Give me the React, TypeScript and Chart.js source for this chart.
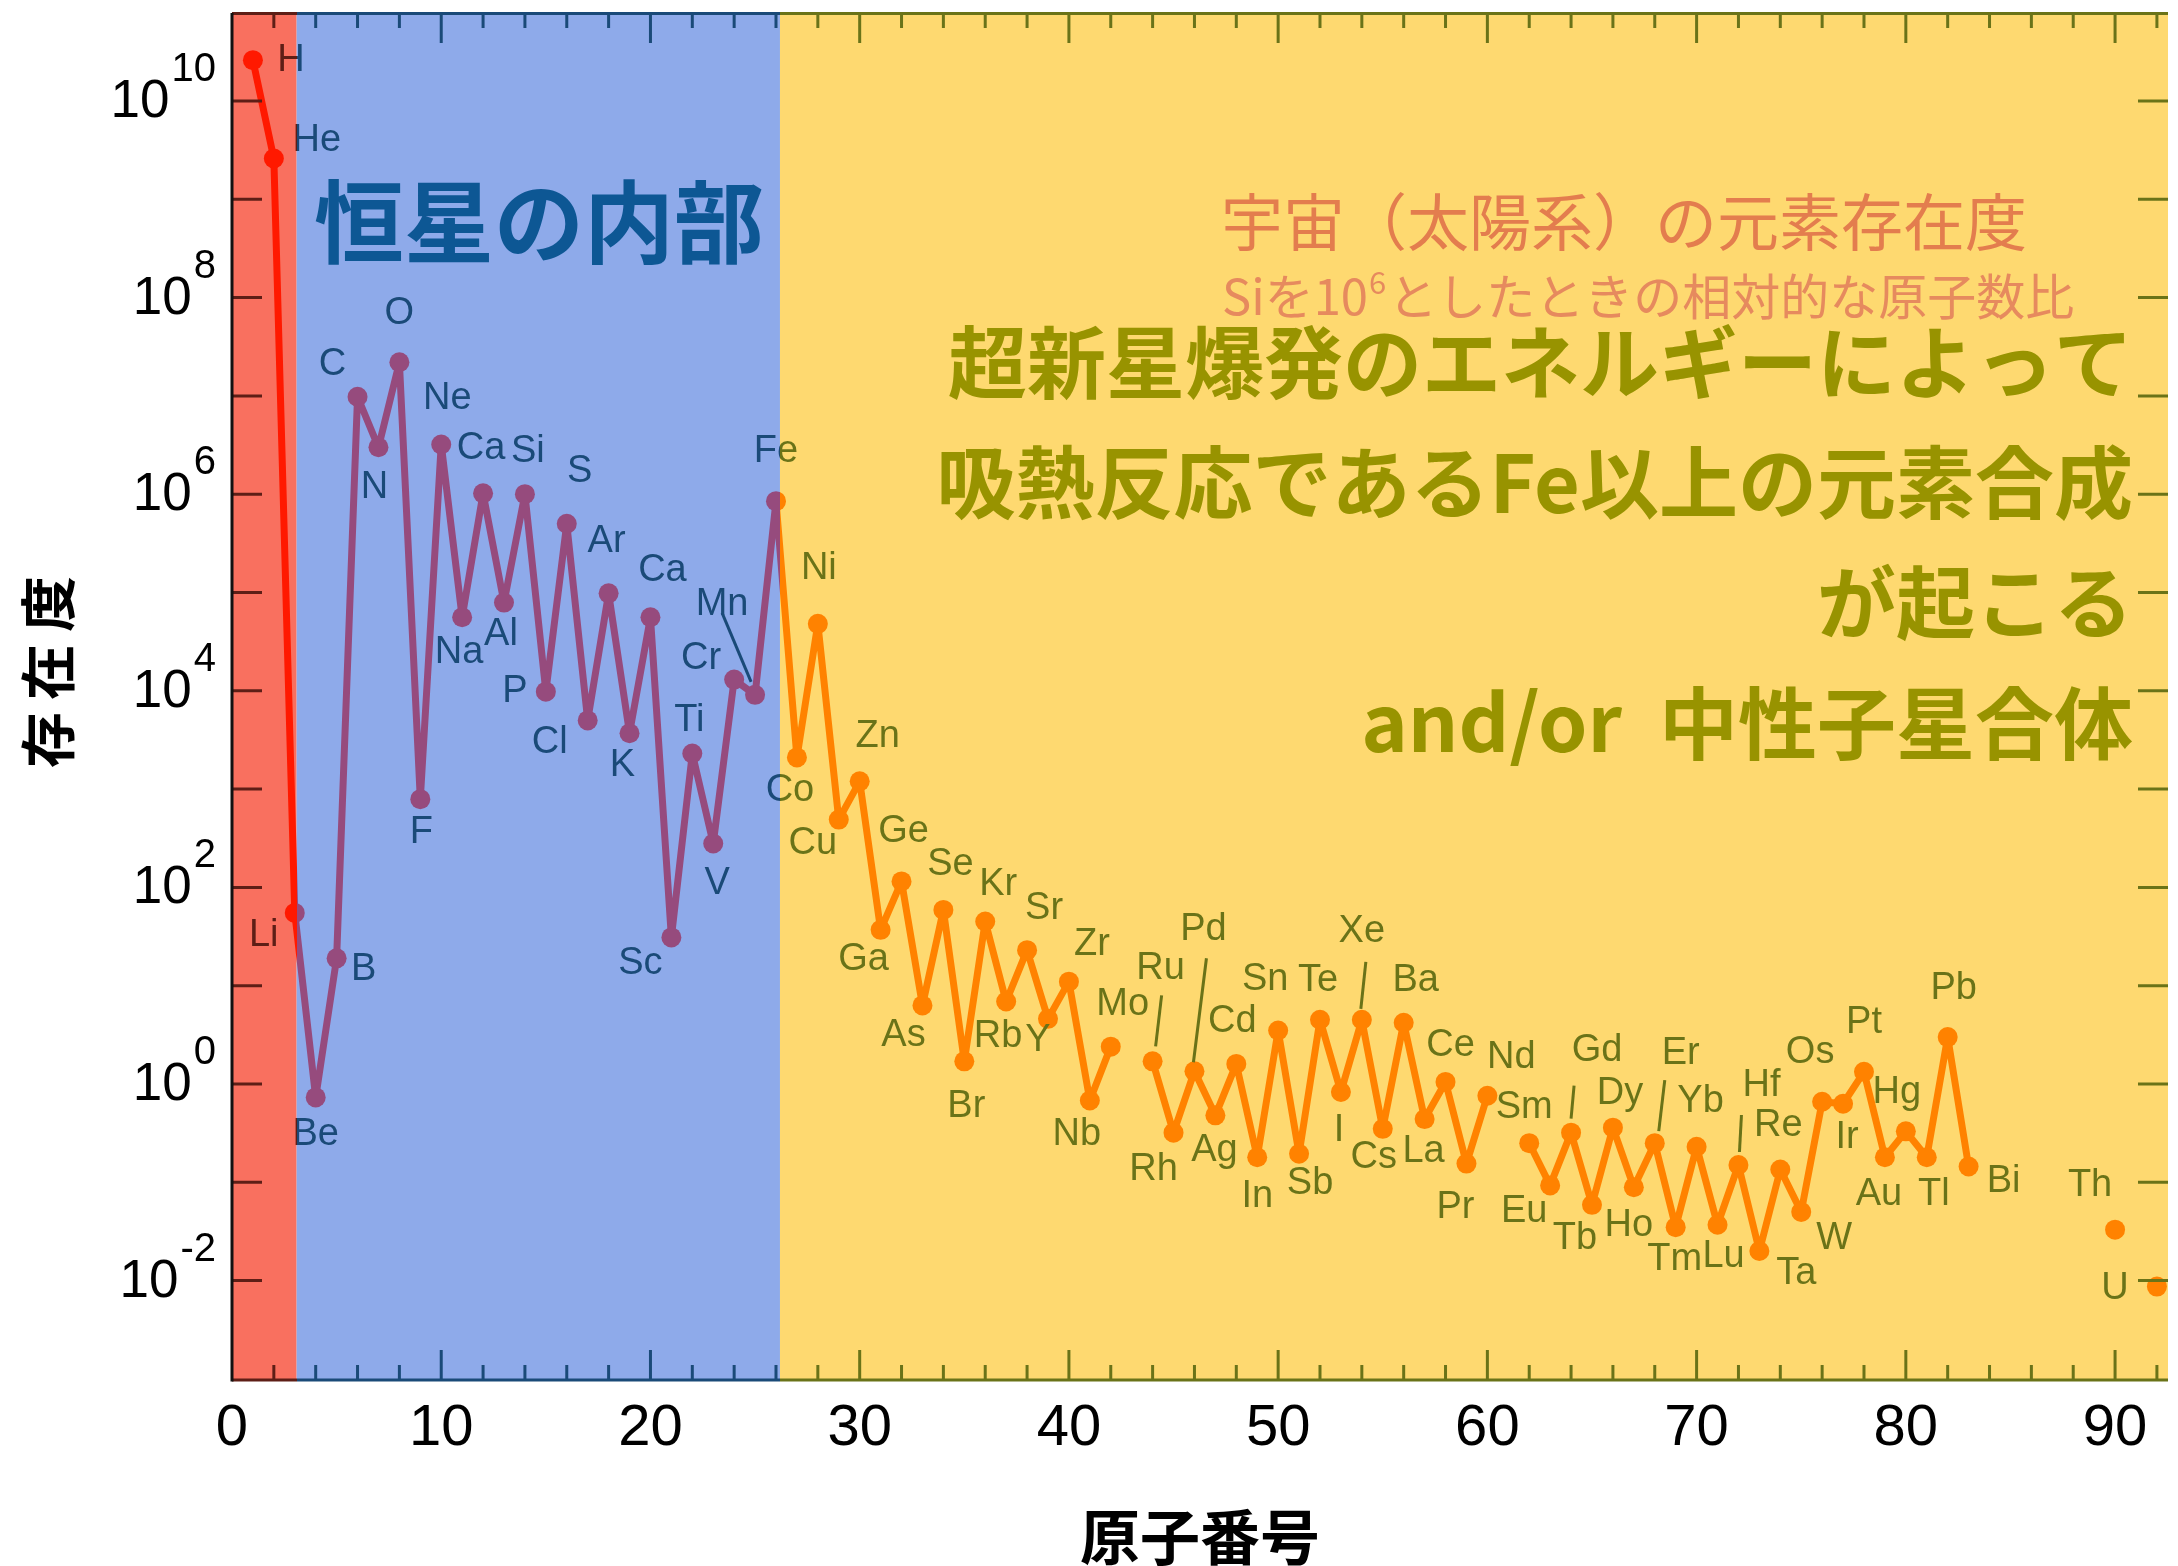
import React, { useEffect, useRef } from 'react';
import { Chart, registerables } from 'chart.js';

Chart.register(...registerables);

// ---------------- data ----------------
const atomicNumbers = [
  1, 2, 3, 4, 5, 6, 7, 8, 9, 10,
  11, 12, 13, 14, 15, 16, 17, 18, 19, 20,
  21, 22, 23, 24, 25, 26, 27, 28, 29, 30,
  31, 32, 33, 34, 35, 36, 37, 38, 39, 40,
  41, 42, 43, 44, 45, 46, 47, 48, 49, 50,
  51, 52, 53, 54, 55, 56, 57, 58, 59, 60,
  61, 62, 63, 64, 65, 66, 67, 68, 69, 70,
  71, 72, 73, 74, 75, 76, 77, 78, 79, 80,
  81, 82, 83, 84, 85, 86, 87, 88, 89, 90,
  91, 92,
];

// label text as printed in the figure (the point at Z=12 is labelled "Ca" there)
const elementLabels = [
  'H', 'He', 'Li', 'Be', 'B', 'C', 'N', 'O', 'F', 'Ne',
  'Na', 'Ca', 'Al', 'Si', 'P', 'S', 'Cl', 'Ar', 'K', 'Ca',
  'Sc', 'Ti', 'V', 'Cr', 'Mn', 'Fe', 'Co', 'Ni', 'Cu', 'Zn',
  'Ga', 'Ge', 'As', 'Se', 'Br', 'Kr', 'Rb', 'Sr', 'Y', 'Zr',
  'Nb', 'Mo', 'Tc', 'Ru', 'Rh', 'Pd', 'Ag', 'Cd', 'In', 'Sn',
  'Sb', 'Te', 'I', 'Xe', 'Cs', 'Ba', 'La', 'Ce', 'Pr', 'Nd',
  'Pm', 'Sm', 'Eu', 'Gd', 'Tb', 'Dy', 'Ho', 'Er', 'Tm', 'Yb',
  'Lu', 'Hf', 'Ta', 'W', 'Re', 'Os', 'Ir', 'Pt', 'Au', 'Hg',
  'Tl', 'Pb', 'Bi', 'Po', 'At', 'Rn', 'Fr', 'Ra', 'Ac', 'Th',
  'Pa', 'U',
];

// solar-system abundance (Si = 1e6); null = not plotted
const abundances: (number | null)[] = [
  2.6e10, 2.6e9, 55, 0.73, 19, 9.8e6, 3.0e6, 2.2e7, 790, 3.2e6,
  5.6e4, 1.02e6, 7.9e4, 1.0e6, 9.8e3, 5.0e5, 5.0e3, 9.8e4, 3.7e3, 5.6e4,
  31, 2.3e3, 280, 1.3e4, 9.1e3, 8.5e5, 2.1e3, 4.8e4, 490, 1.2e3,
  37, 115, 6.3, 59, 1.7, 45, 6.9, 23, 4.6, 11,
  0.68, 2.4, null, 1.7, 0.32, 1.35, 0.48, 1.6, 0.18, 3.5,
  0.195, 4.5, 0.83, 4.5, 0.35, 4.2, 0.44, 1.05, 0.155, 0.76,
  null, 0.25, 0.093, 0.32, 0.059, 0.36, 0.089, 0.25, 0.035, 0.23,
  0.037, 0.15, 0.02, 0.135, 0.05, 0.66, 0.63, 1.33, 0.18, 0.33,
  0.18, 3.0, 0.145, null, null, null, null, null, null, 0.033,
  null, 0.0087,
];

const xTickLabels = [0, 10, 20, 30, 40, 50, 60, 70, 80, 90];
const yTickExponents = [-2, 0, 2, 4, 6, 8, 10];

// zone boundaries on the atomic-number axis: [H burning | stellar interior | supernova]
const zoneBounds = [3.09, 26.19];

// ---------------- layout / style (not data) ----------------
const W = 2178;
const H = 1566;
const X_MAX = 92.53;
const Y_MIN_EXP = -3.011;
const Y_MAX_EXP = 10.895;

const zoneFill = ['#F9705F', '#8EAAEA', '#FED970'];
const lineColors = ['#FF1900', '#964B7D', '#FF8200'];
const inkColors = ['#5E1E16', '#1A4A78', '#6A7318'];

// label offsets (px) relative to each point
const labelOffsets: ([number, number] | null)[] = [
  [38, 0], [43, -18], [-31, 23], [0, 37], [27, 11], [-25, -32], [-4, 40], [0, -49], [1, 33], [6, -46],
  [-3, 35], [-2, -45], [-3, 32], [3, -43], [-31, 0], [13, -52], [-38, 22], [-2, -52], [-7, 32], [12, -47],
  [-31, 26], [-3, -33], [4, 40], [-33, -21], [-33, -90], [0, -50], [-7, 33], [1, -55], [-26, 24], [18, -45],
  [-17, 30], [2, -50], [-19, 30], [7, -45], [2, 45], [13, -37], [-8, 35], [17, -42], [-10, 22], [23, -37],
  [-13, 34], [12, -42], null, [8, -93], [-20, 37], [9, -142], [-1, 35], [-4, -42], [0, 39], [-13, -51],
  [11, 30], [-2, -39], [-2, 39], [0, -88], [-9, 29], [12, -42], [-1, 32], [5, -36], [-11, 44], [24, -38],
  null, [-5, -36], [-26, 26], [26, -82], [-17, 34], [7, -34], [-5, 38], [26, -90], [-1, 32], [4, -45],
  [6, 32], [23, -79], [37, 22], [54, 69], [-23, -86], [-12, -49], [4, 34], [0, -49], [-6, 37], [-9, -39],
  [7, 37], [6, -49], [35, 15], null, null, null, null, null, null, [-25, -44],
  null, [-42, 2],
];

// leader strokes joining a label to its point (offsets from the point)
const leaders: { z: number; from: [number, number]; to: [number, number] }[] = [
  { z: 25, from: [-33, -82], to: [-4, -13] },
  { z: 44, from: [9, -66], to: [3, -15] },
  { z: 46, from: [12, -113], to: [-1, -9] },
  { z: 54, from: [4, -58], to: [-1, -11] },
  { z: 64, from: [3, -47], to: [0, -14] },
  { z: 68, from: [10, -63], to: [4, -12] },
  { z: 72, from: [3, -50], to: [1, -13] },
];

const LATIN = '"Liberation Sans", Arial, Helvetica, sans-serif';
const CJK = '"Noto Sans CJK JP", "Noto Sans CJK SC", sans-serif';

function zoneGradient(chart: any, colors: string[]) {
  const area = chart.chartArea;
  if (!area) return colors[0];
  const xs = chart.scales.x;
  const g = chart.ctx.createLinearGradient(area.left, 0, area.right, 0);
  const w = area.right - area.left;
  const f1 = Math.min(1, Math.max(0, (xs.getPixelForValue(zoneBounds[0]) - area.left) / w));
  const f2 = Math.min(1, Math.max(0, (xs.getPixelForValue(zoneBounds[1]) - area.left) / w));
  g.addColorStop(0, colors[0]);
  g.addColorStop(f1, colors[0]);
  g.addColorStop(f1, colors[1]);
  g.addColorStop(f2, colors[1]);
  g.addColorStop(f2, colors[2]);
  g.addColorStop(1, colors[2]);
  return g;
}

const decorPlugin = {
  id: 'decor',
  beforeDraw(chart: any) {
    const ctx = chart.ctx;
    ctx.save();
    ctx.fillStyle = '#ffffff';
    ctx.fillRect(0, 0, chart.width, chart.height);
    ctx.restore();
  },
  beforeDatasetsDraw(chart: any) {
    const { ctx, chartArea: a, scales } = chart;
    const xs = scales.x;
    const b1 = xs.getPixelForValue(zoneBounds[0]);
    const b2 = xs.getPixelForValue(zoneBounds[1]);
    ctx.save();
    ctx.fillStyle = zoneFill[0];
    ctx.fillRect(a.left, a.top, b1 - a.left, a.bottom - a.top);
    ctx.fillStyle = zoneFill[1];
    ctx.fillRect(b1, a.top, b2 - b1, a.bottom - a.top);
    ctx.fillStyle = zoneFill[2];
    ctx.fillRect(b2, a.top, a.right - b2, a.bottom - a.top);
    ctx.restore();
  },
  afterDatasetsDraw(chart: any) {
    const { ctx, chartArea: a, scales } = chart;
    const xs = scales.x;
    const ys = scales.y;
    const ink = zoneGradient(chart, inkColors);

    // element labels
    ctx.save();
    ctx.beginPath();
    ctx.rect(a.left, a.top, a.right - a.left, a.bottom - a.top);
    ctx.clip();
    ctx.font = `38px ${LATIN}`;
    ctx.textAlign = 'center';
    ctx.textBaseline = 'middle';
    ctx.fillStyle = ink;
    atomicNumbers.forEach((z, i) => {
      const v = abundances[i];
      const off = labelOffsets[i];
      if (v == null || !off) return;
      const px = xs.getPixelForValue(z);
      const py = ys.getPixelForValue(v);
      ctx.fillText(elementLabels[i], px + off[0], py + off[1]);
    });
    // leader lines
    ctx.strokeStyle = ink;
    ctx.lineWidth = 3;
    leaders.forEach((l) => {
      const i = atomicNumbers.indexOf(l.z);
      const v = abundances[i];
      if (v == null) return;
      const px = xs.getPixelForValue(l.z);
      const py = ys.getPixelForValue(v);
      ctx.beginPath();
      ctx.moveTo(px + l.from[0], py + l.from[1]);
      ctx.lineTo(px + l.to[0], py + l.to[1]);
      ctx.stroke();
    });

    // inward ticks
    ctx.lineWidth = 3;
    ctx.strokeStyle = ink;
    ctx.beginPath();
    for (let v = 2; v < X_MAX; v += 2) {
      const px = xs.getPixelForValue(v);
      const len = v % 10 === 0 ? 30 : 15;
      ctx.moveTo(px, a.bottom);
      ctx.lineTo(px, a.bottom - len);
      ctx.moveTo(px, a.top);
      ctx.lineTo(px, a.top + len);
    }
    for (let e = -2; e <= 10; e++) {
      const py = ys.getPixelForValue(Math.pow(10, e));
      ctx.moveTo(a.left, py);
      ctx.lineTo(a.left + 30, py);
      ctx.moveTo(a.right, py);
      ctx.lineTo(a.right - 30, py);
    }
    ctx.stroke();
    ctx.restore();

    // frame
    ctx.save();
    ctx.lineWidth = 3;
    ctx.strokeStyle = ink;
    ctx.beginPath();
    ctx.moveTo(a.left, a.bottom);
    ctx.lineTo(a.right, a.bottom);
    ctx.moveTo(a.left, a.top + 0.5);
    ctx.lineTo(a.right, a.top + 0.5);
    ctx.stroke();
    ctx.strokeStyle = '#111111';
    ctx.beginPath();
    ctx.moveTo(a.left, a.top);
    ctx.lineTo(a.left, a.bottom + 1.5);
    ctx.stroke();
    ctx.restore();

    // x tick labels
    ctx.save();
    ctx.fillStyle = '#000000';
    ctx.font = `58px ${LATIN}`;
    ctx.textAlign = 'center';
    ctx.textBaseline = 'alphabetic';
    xTickLabels.forEach((v) => {
      ctx.fillText(String(v), xs.getPixelForValue(v), a.bottom + 65);
    });

    // y tick labels with superscript exponents
    yTickExponents.forEach((e) => {
      const py = ys.getPixelForValue(Math.pow(10, e));
      const right = a.left - 16;
      ctx.font = `40px ${LATIN}`;
      ctx.textAlign = 'right';
      const expText = String(e);
      const ew = ctx.measureText(expText).width;
      ctx.fillText(expText, right, py - 20);
      ctx.font = `53px ${LATIN}`;
      ctx.fillText('10', right - ew - 2, py + 16);
    });

    // axis titles
    ctx.font = `bold 60px ${CJK}`;
    ctx.textAlign = 'center';
    ctx.textBaseline = 'middle';
    ctx.fillText('原子番号', (a.left + a.right) / 2, 1537);

    ctx.translate(48, 672);
    ctx.rotate(-Math.PI / 2);
    ctx.font = `bold 56px ${CJK}`;
    const ytitle = ['存', '在', '度'];
    ytitle.forEach((ch, k) => ctx.fillText(ch, (k - 1) * 68, 0));
    ctx.restore();

    // annotations
    ctx.save();
    ctx.textBaseline = 'middle';
    ctx.textAlign = 'left';
    ctx.fillStyle = '#0D5794';
    ctx.font = `bold 90px ${CJK}`;
    ctx.fillText('恒星の内部', 314, 222);

    ctx.fillStyle = '#E37D4E';
    ctx.font = `62px ${CJK}`;
    ctx.fillText('宇宙（太陽系）の元素存在度', 1221, 222);

    ctx.fillStyle = '#E68A5E';
    ctx.font = `49px ${CJK}`;
    const s1 = 'Siを10';
    ctx.fillText(s1, 1222, 296);
    const w1 = ctx.measureText(s1).width;
    ctx.font = `31px ${CJK}`;
    ctx.fillText('6', 1222 + w1 + 1, 282);
    const w2 = ctx.measureText('6').width;
    ctx.font = `49px ${CJK}`;
    ctx.fillText('としたときの相対的な原子数比', 1222 + w1 + w2 + 3, 296);

    ctx.fillStyle = '#989300';
    ctx.font = `bold 79px ${CJK}`;
    ctx.textAlign = 'right';
    ctx.fillText('超新星爆発のエネルギーによって', 2133, 363);
    ctx.fillText('吸熱反応であるFe以上の元素合成', 2133, 483);
    ctx.fillText('が起こる', 2133, 603);
    ctx.fillText('中性子星合体', 2133, 724);
    ctx.fillText('and/or', 1622, 722);
    ctx.restore();
  },
};

export default function App() {
  const canvasRef = useRef<HTMLCanvasElement | null>(null);

  useEffect(() => {
    const canvas = canvasRef.current;
    if (!canvas) return;
    const chart = new Chart(canvas, {
      type: 'line',
      data: {
        datasets: [
          {
            label: '存在度',
            data: atomicNumbers.map((z, i) => ({ x: z, y: abundances[i] })) as any,
            borderWidth: 7,
            borderJoinStyle: 'round',
            borderCapStyle: 'round',
            borderColor: (c: any) => zoneGradient(c.chart, lineColors),
            pointBackgroundColor: (c: any) => zoneGradient(c.chart, lineColors),
            pointBorderWidth: 0,
            pointRadius: 10,
            pointHoverRadius: 10,
            tension: 0,
            spanGaps: false,
            clip: 0,
          } as any,
        ],
      },
      options: {
        animation: false,
        responsive: false,
        devicePixelRatio: 1,
        events: [],
        layout: { padding: { left: 232, top: 13, right: 0, bottom: 186 } },
        plugins: {
          legend: { display: false },
          tooltip: { enabled: false },
          title: { display: false },
        },
        scales: {
          x: { type: 'linear', min: 0, max: X_MAX, bounds: 'data', display: false },
          y: {
            type: 'logarithmic',
            min: Math.pow(10, Y_MIN_EXP),
            max: Math.pow(10, Y_MAX_EXP),
            bounds: 'data',
            display: false,
          },
        },
      } as any,
      plugins: [decorPlugin],
    });
    return () => chart.destroy();
  }, []);

  return (
    <div style={{ position: 'fixed', left: 0, top: 0, width: W, height: H, background: '#ffffff' }}>
      <canvas ref={canvasRef} width={W} height={H} style={{ display: 'block', width: W, height: H }} />
    </div>
  );
}
